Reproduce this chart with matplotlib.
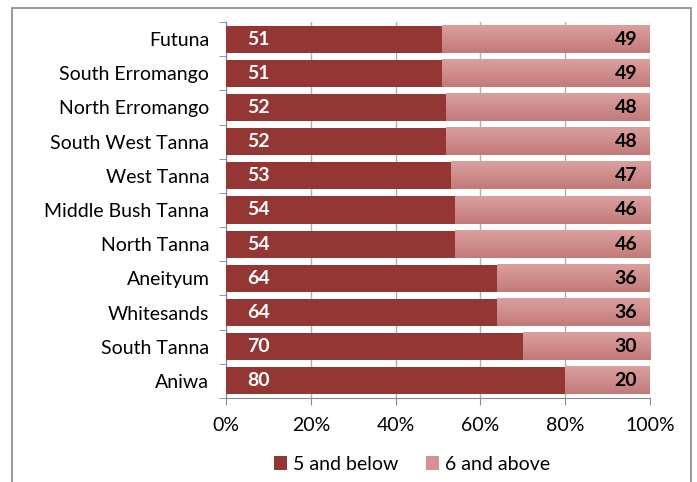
import matplotlib.pyplot as plt
from matplotlib.patches import Rectangle
from matplotlib.colors import LinearSegmentedColormap
import numpy as np

AREAS = ['Futuna', 'South Erromango', 'North Erromango', 'South West Tanna',
         'West Tanna', 'Middle Bush Tanna', 'North Tanna', 'Aneityum',
         'Whitesands', 'South Tanna', 'Aniwa']
BELOW_5 = [51, 51, 52, 52, 53, 54, 54, 64, 64, 70, 80]
ABOVE_6 = [49, 49, 48, 48, 47, 46, 46, 36, 36, 30, 20]
SERIES = ['5 and below', '6 and above']
TICKS = [0, 20, 40, 60, 80, 100]

DARK = '#943634'
LIGHT = '#d49290'

plt.rcParams['font.family'] = ['Lato', 'DejaVu Sans']

fig = plt.figure(figsize=(6.97, 4.82), dpi=100)
ax = fig.add_axes([226 / 697, 1 - 398 / 482, 424 / 697, 376 / 482])

# chart border
fig.patches.append(Rectangle((12 / 697, -0.05), 679 / 697, 1.05 - 8 / 482,
                             transform=fig.transFigure, fill=False,
                             edgecolor='#888888', linewidth=1.2))

y = np.arange(len(AREAS))
h = 0.79
grad = LinearSegmentedColormap.from_list('g', ['#dba09e', '#c27a7a'])
ax.barh(y, BELOW_5, height=h, color=DARK, zorder=3, label=SERIES[0])
bars = ax.barh(y, ABOVE_6, left=BELOW_5, height=h, color=LIGHT, zorder=3,
               label=SERIES[1])
for b in bars:
    x0, y0 = b.get_x(), b.get_y()
    ax.imshow(np.linspace(0, 1, 50).reshape(-1, 1), cmap=grad, aspect='auto',
              extent=(x0, x0 + b.get_width(), y0 + b.get_height(), y0),
              zorder=4, interpolation='bilinear')

for i in range(len(AREAS)):
    ax.text(5, y[i], str(BELOW_5[i]), color='white', fontsize=14,
            fontweight='bold', va='center', ha='left', zorder=5)
    ax.text(97, y[i], str(ABOVE_6[i]), color='black', fontsize=14,
            fontweight='bold', va='center', ha='right', zorder=5)

ax.set_xlim(0, 100)
ax.set_ylim(len(AREAS) - 0.5, -0.5)
ax.set_xticks(TICKS)
ax.set_xticklabels([f'{t}%' for t in TICKS], fontsize=14)
ax.set_yticks(y)
ax.set_yticklabels(AREAS, fontsize=14)
ax.tick_params(axis='y', length=0, pad=12)
ax.tick_params(axis='x', length=5, color='#888888', pad=9, direction='out')
# category boundary ticks on the left
ax.set_yticks(np.arange(-0.5, len(AREAS)), minor=True)
ax.tick_params(axis='y', which='minor', length=5, color='#888888')
ax.grid(axis='x', color='#b0b0b0', linewidth=1, zorder=0)
for s in ['top', 'right']:
    ax.spines[s].set_visible(False)
for s in ['left', 'bottom']:
    ax.spines[s].set_color('#888888')

handles, labels = ax.get_legend_handles_labels()
fig.legend(handles, labels, loc='center', bbox_to_anchor=(412 / 697, 1 - 464 / 482),
           ncol=2, frameon=False, fontsize=14, handlelength=0.7,
           handleheight=0.7, handletextpad=0.3, columnspacing=1.4)

fig.savefig('out.png', dpi=100)
